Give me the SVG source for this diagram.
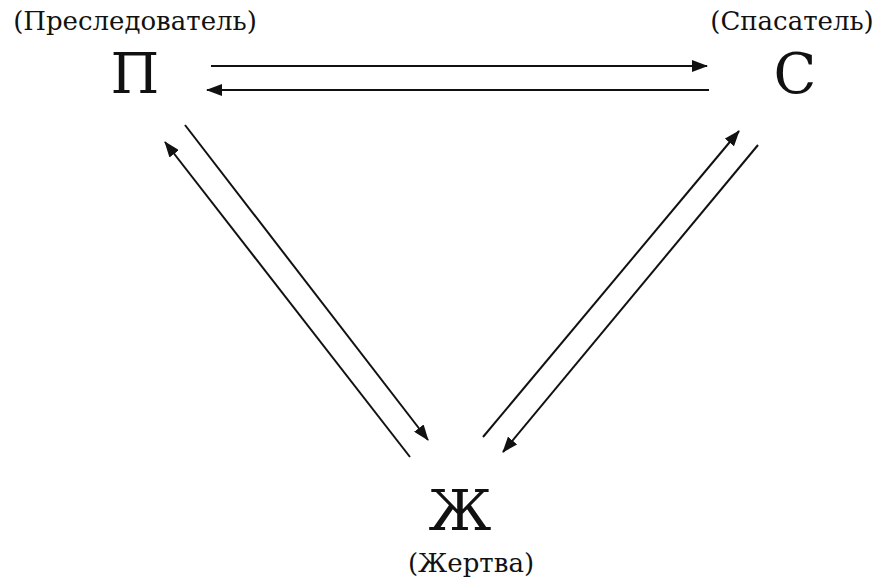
<svg xmlns="http://www.w3.org/2000/svg" width="882" height="579" viewBox="0 0 882 579">
<style>
.lbl{font-family:"DejaVu Serif","Liberation Serif",serif;font-size:26px;fill:#111}
.big{font-family:"DejaVu Serif","Liberation Serif",serif;font-size:56px;fill:#111}
.ln{stroke:#111;stroke-width:2;fill:none;marker-end:url(#ah)}
</style>
<defs>
<marker id="ah" viewBox="0 0 16 12" refX="15" refY="6" markerWidth="16" markerHeight="12" markerUnits="userSpaceOnUse" orient="auto">
<path d="M0,0 L16,6 L0,12 Z" fill="#111"/>
</marker>
</defs>
<rect width="882" height="579" fill="#fff"/>
<g id="node-P">
<text class="lbl" x="135" y="30" text-anchor="middle">(Преследователь)</text>
<text class="big" x="135" y="93" text-anchor="middle">П</text>
</g>
<g id="node-S">
<text class="lbl" x="792" y="30" text-anchor="middle">(Спасатель)</text>
<text class="big" x="795" y="93" text-anchor="middle">С</text>
</g>
<g id="node-Zh">
<text class="big" x="460" y="530" text-anchor="middle">Ж</text>
<text class="lbl" x="471" y="572" text-anchor="middle">(Жертва)</text>
</g>
<g id="connectors">
<line class="ln" x1="211" y1="66" x2="707" y2="66"/>
<line class="ln" x1="709" y1="90" x2="207" y2="90"/>
<line class="ln" x1="185" y1="125" x2="428" y2="440"/>
<line class="ln" x1="410" y1="457" x2="165" y2="142"/>
<line class="ln" x1="483" y1="437" x2="739" y2="131"/>
<line class="ln" x1="758" y1="145" x2="503" y2="452"/>
</g>
</svg>
